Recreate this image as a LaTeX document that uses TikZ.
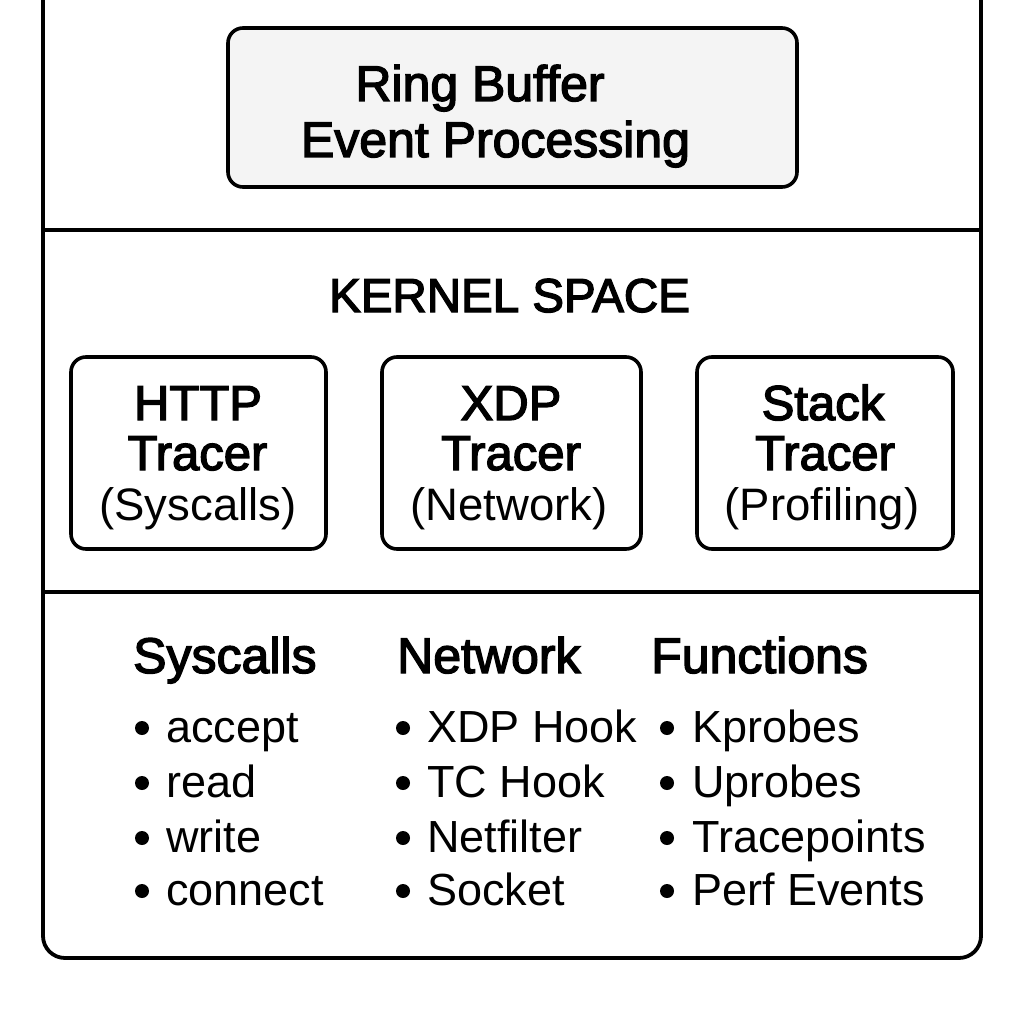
\documentclass[tikz,border=0pt]{standalone}
\usepackage{fontspec}
\setmainfont{Liberation Sans}
\newfontfamily\semib[FakeBold=2.8]{Liberation Sans}
\begin{document}
\begin{tikzpicture}[x=1pt,y=-1pt,
  frame/.style={line width=3.8pt, rounded corners=22pt},
  divider/.style={line width=3.3pt},
  box/.style={draw, line width=3.6pt, rounded corners=15pt, inner sep=0pt, minimum height=192pt},
  ringbox/.style={draw, line width=3.6pt, rounded corners=15pt, inner sep=0pt, fill=ringgray, minimum width=569pt, minimum height=159pt},
  semitxt/.style={anchor=base, inner sep=0pt, font=\semib\fontsize{49}{49}\selectfont},
  ringtxt/.style={anchor=base, inner sep=0pt, font=\semib\fontsize{50}{50}\selectfont},
  subtxt/.style={anchor=base, inner sep=0pt, font=\fontsize{45.5}{45.5}\selectfont},
  headtxt/.style={anchor=base west, inner sep=0pt, font=\semib\fontsize{50}{50}\selectfont},
  itemtxt/.style={anchor=base west, inner sep=0pt, font=\fontsize{45}{45}\selectfont},
  bulletdot/.style={circle, fill=black, draw=none, inner sep=0pt, minimum size=14pt}
]
\definecolor{ringgray}{HTML}{F4F4F4}
\useasboundingbox (0,0) rectangle (1024,1024);
\fill[white] (0,0) rectangle (1024,1024);
\clip (0,0) rectangle (1024,1024);

% outer frame and dividers
\draw[frame] (43,-40) -- (43,958) -- (981,958) -- (981,-40);
\draw[divider] (43,230) -- (981,230);
\draw[divider] (43,592) -- (981,592);

% ring buffer
\node[ringbox] (ring) at (512.5,107.5) {};
\node[ringtxt] (ring1) at (480,101) {Ring Buffer};
\node[ringtxt] (ring2) at (495.5,157) {Event Processing};

% kernel space
\node[semitxt, font=\semib\fontsize{47.5}{47.5}\selectfont] (kernel) at (509.5,312) {KERNEL SPACE};

% tracers
\node[box, minimum width=255pt] (http) at (198.5,453) {};
\node[semitxt] (http1) at (198,420) {HTTP};
\node[semitxt] (http2) at (197.5,470) {Tracer};
\node[subtxt] (http3) at (198,520) {(Syscalls)};

\node[box, minimum width=259pt] (xdp) at (511.5,453) {};
\node[semitxt] (xdp1) at (511,420) {XDP};
\node[semitxt] (xdp2) at (511,470) {Tracer};
\node[subtxt] (xdp3) at (509,520) {(Network)};

\node[box, minimum width=256pt] (stack) at (825,453) {};
\node[semitxt] (stack1) at (823,420) {Stack};
\node[semitxt] (stack2) at (825,470) {Tracer};
\node[subtxt] (stack3) at (822,520) {(Profiling)};

% lists
\node[headtxt] (hsys) at (133,673) {Syscalls};
\node[headtxt] (hnet) at (397,673) {Network};
\node[headtxt] (hfun) at (651,673) {Functions};

\foreach \y/\i in {742/1,797/2,852/3,905/4}{
  \node[bulletdot] (bs\i) at (142,\y-14) {};
  \node[bulletdot] (bn\i) at (403,\y-14) {};
  \node[bulletdot] (bf\i) at (667,\y-14) {};
}
\node[itemtxt] (s1) at (166,742) {accept};
\node[itemtxt] (s2) at (166,797) {read};
\node[itemtxt] (s3) at (166,852) {write};
\node[itemtxt] (s4) at (166,905) {connect};

\node[itemtxt] (n1) at (427,742) {XDP Hook};
\node[itemtxt] (n2) at (427,797) {TC Hook};
\node[itemtxt] (n3) at (427,852) {Netfilter};
\node[itemtxt] (n4) at (427,905) {Socket};

\node[itemtxt] (f1) at (692,742) {Kprobes};
\node[itemtxt] (f2) at (692,797) {Uprobes};
\node[itemtxt] (f3) at (692,852) {Tracepoints};
\node[itemtxt] (f4) at (692,905) {Perf Events};
\end{tikzpicture}
\end{document}
